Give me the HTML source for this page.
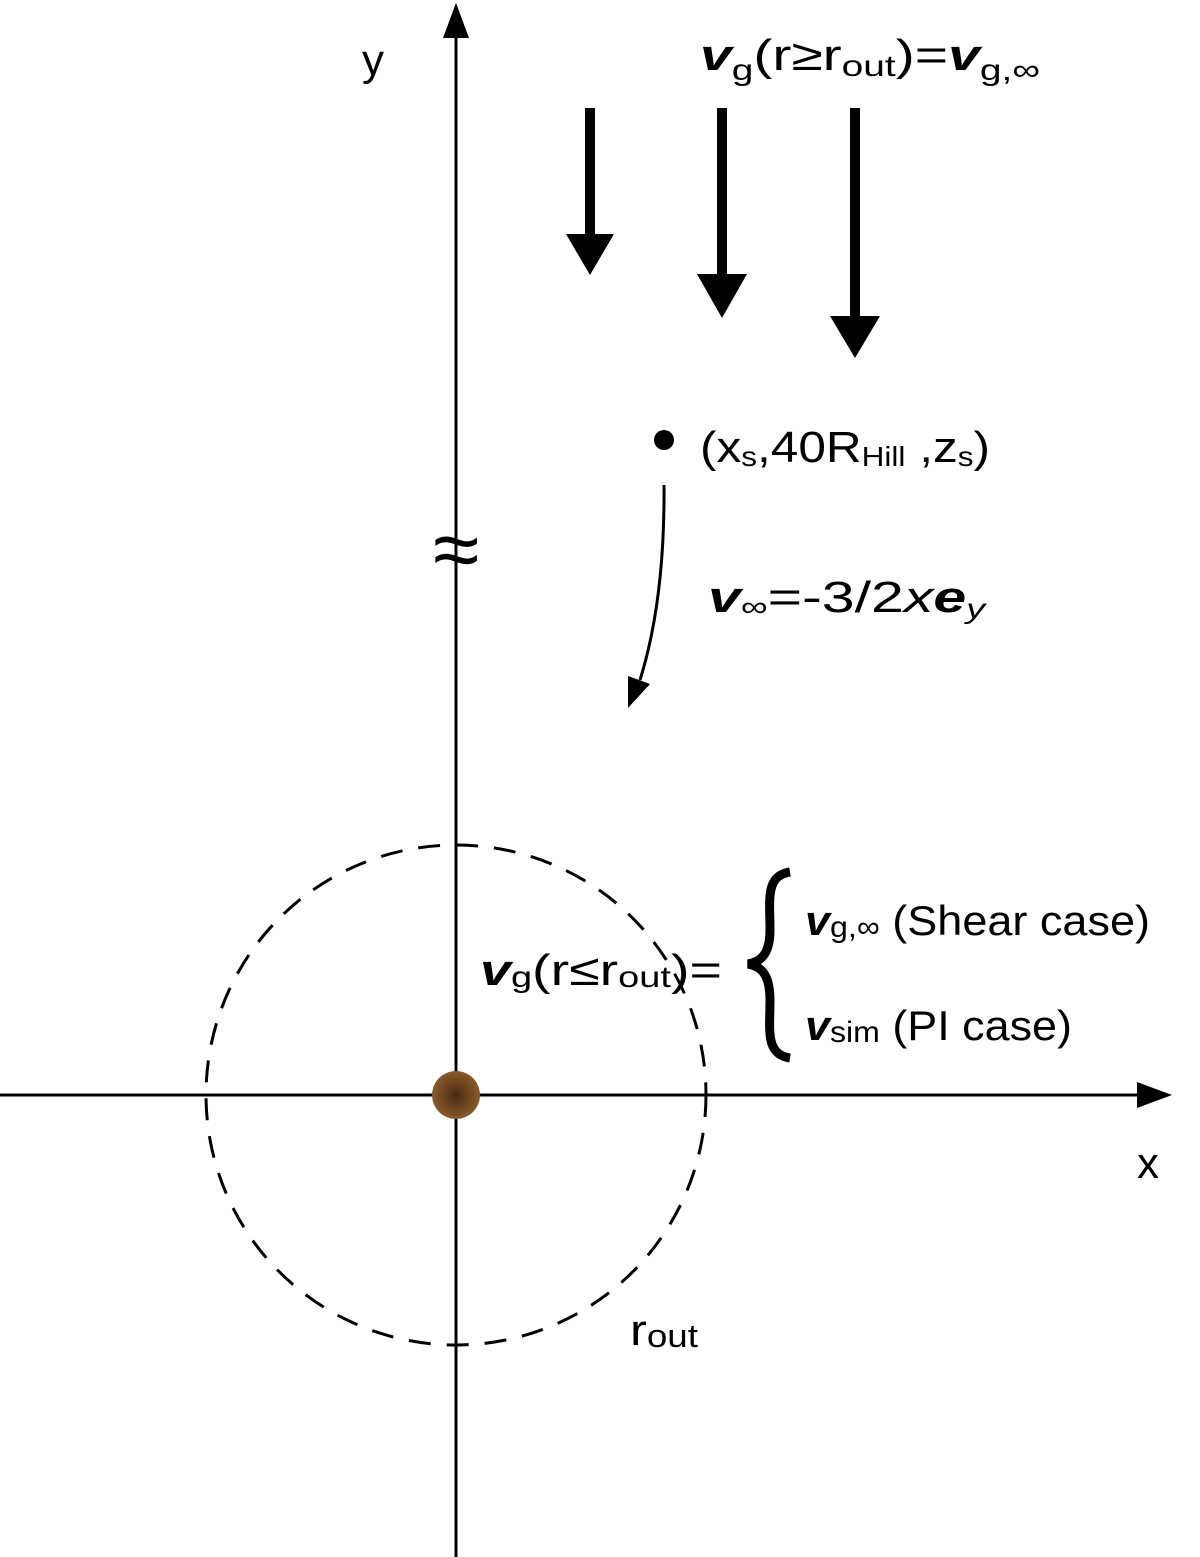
<!DOCTYPE html>
<html><head><meta charset="utf-8"><style>body{margin:0;background:#fff}svg{display:block}text{font-family:"Liberation Sans",sans-serif;fill:#000}</style></head><body>
<svg width="1200" height="1557" viewBox="0 0 1200 1557" xmlns="http://www.w3.org/2000/svg">
<defs><radialGradient id="pg" cx="50%" cy="50%" r="50%"><stop offset="0" stop-color="#4a2a10"/><stop offset="1" stop-color="#8a5a2a"/></radialGradient></defs>
<line x1="456" y1="1557" x2="456" y2="30" stroke="#000" stroke-width="3"/>
<polygon points="456,3 443,38 469,38" fill="#000"/>
<line x1="0" y1="1095" x2="1145" y2="1095" stroke="#000" stroke-width="3"/>
<polygon points="1172,1095 1137,1082 1137,1108" fill="#000"/>
<circle cx="456" cy="1095" r="250" fill="none" stroke="#000" stroke-width="3" stroke-dasharray="22,16"/>
<circle cx="456" cy="1095" r="24" fill="url(#pg)"/>
<rect x="585" y="108" width="10" height="128" fill="#000"/><polygon points="566,234 614,234 590,275" fill="#000"/>
<rect x="717" y="108" width="10" height="168" fill="#000"/><polygon points="697,274 747,274 722,318" fill="#000"/>
<rect x="850" y="108" width="10" height="210" fill="#000"/><polygon points="830,316 880,316 855,358" fill="#000"/>
<circle cx="664" cy="440" r="10" fill="#000"/>
<path d="M664,485 Q665,600 640,680" fill="none" stroke="#000" stroke-width="3"/>
<polygon points="628,708 628,676 650,684" fill="#000"/>
<text x="456" y="578" font-size="84" text-anchor="middle">≈</text>
<text x="362" y="75" font-size="44">y</text>
<text x="1137" y="1178" font-size="44">x</text>
<text x="630" y="1345" font-size="44" textLength="68" lengthAdjust="spacingAndGlyphs">r<tspan font-size="32" dy="2">out</tspan></text>
<text x="700" y="70" font-size="44" textLength="340" lengthAdjust="spacingAndGlyphs"><tspan font-weight="bold" font-style="italic">v</tspan><tspan font-size="30" dy="10">g</tspan><tspan dy="-10">(r≥r</tspan><tspan font-size="30" dy="6">out</tspan><tspan dy="-6">)=</tspan><tspan font-weight="bold" font-style="italic">v</tspan><tspan font-size="30" dy="10">g,∞</tspan></text>
<text x="700" y="462" font-size="44" textLength="290" lengthAdjust="spacingAndGlyphs">(x<tspan font-size="28" dy="4">s</tspan><tspan dy="-4">,40R</tspan><tspan font-size="28" dy="4">Hill</tspan><tspan dy="-4"> ,z</tspan><tspan font-size="28" dy="4">s</tspan><tspan dy="-4">)</tspan></text>
<text x="708" y="612" font-size="44" textLength="277" lengthAdjust="spacingAndGlyphs"><tspan font-weight="bold" font-style="italic">v</tspan><tspan font-size="28" dy="4">∞</tspan><tspan dy="-4">=-3/2</tspan><tspan font-style="italic">x</tspan><tspan font-weight="bold" font-style="italic">e</tspan><tspan font-size="28" font-style="italic" dy="6">y</tspan></text>
<text x="480" y="985" font-size="44" textLength="242" lengthAdjust="spacingAndGlyphs"><tspan font-weight="bold" font-style="italic">v</tspan><tspan font-size="30" dy="2">g</tspan><tspan dy="-2">(r≤r</tspan><tspan font-size="30" dy="2">out</tspan><tspan dy="-2">)=</tspan></text>
<path d="M790,872 C765,876 770,900 770,930 C770,955 760,962 748,964 C760,966 770,973 770,1000 C770,1030 765,1054 790,1058" fill="none" stroke="#000" stroke-width="9"/>
<text x="805" y="935" font-size="42" textLength="345" lengthAdjust="spacingAndGlyphs"><tspan font-weight="bold" font-style="italic">v</tspan><tspan font-size="30" dy="2">g,∞</tspan><tspan dy="-2"> (Shear case)</tspan></text>
<text x="805" y="1040" font-size="42" textLength="267" lengthAdjust="spacingAndGlyphs"><tspan font-weight="bold" font-style="italic">v</tspan><tspan font-size="30" dy="2">sim</tspan><tspan dy="-2">  (PI case)</tspan></text>
</svg>
</body></html>
